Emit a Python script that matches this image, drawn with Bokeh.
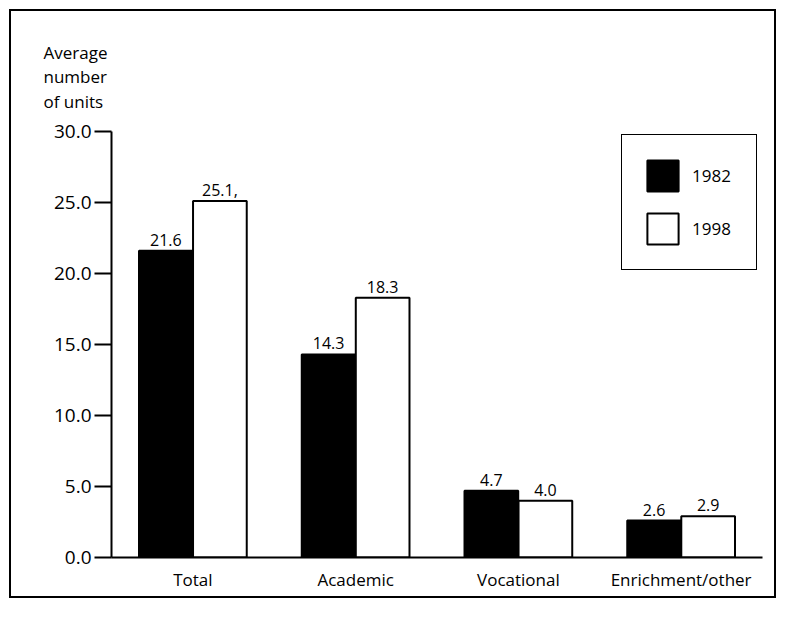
from bokeh.plotting import figure
from bokeh.models import (ColumnDataSource, FactorRange, Range1d, FixedTicker,
                          PrintfTickFormatter, Legend, LegendItem, Title)
from bokeh.transform import dodge
from bokeh.core.properties import value
from bokeh.embed import file_html
from bokeh.resources import INLINE

categories = ["Total", "Academic", "Vocational", "Enrichment/other"]
units_1982 = [21.6, 14.3, 4.7, 2.6]
units_1998 = [25.1, 18.3, 4.0, 2.9]
labels_1982 = ["21.6", "14.3", "4.7", "2.6"]
labels_1998 = ["25.1,", "18.3", "4.0", "2.9"]
y_ticks = [0, 5, 10, 15, 20, 25, 30]
series_names = ["1982", "1998"]
y_title = "Average\nnumber\nof units"

FONT = "Open Sans"

source = ColumnDataSource(data=dict(
    cat=categories, v1982=units_1982, v1998=units_1998,
    l1982=labels_1982, l1998=labels_1998,
))

p = figure(x_range=FactorRange(*categories), y_range=Range1d(0, 30),
           width=767, height=589, output_backend="svg", toolbar_location=None,
           min_border_left=100, min_border_right=16, min_border_top=120,
           min_border_bottom=43)
p.styles = {"border": "2px solid black", "margin": "9px 0 0 9px"}
p.outline_line_color = None
p.xgrid.grid_line_color = None
p.ygrid.grid_line_color = None
p.x_range.range_padding = 0
p.background_fill_color = "white"
p.border_fill_color = "white"

off = 0.166
bw = 0.33
r1 = p.vbar(x=dodge("cat", -off, range=p.x_range), top="v1982", width=bw,
            source=source, fill_color="black", line_color="black", line_width=2)
r2 = p.vbar(x=dodge("cat", off, range=p.x_range), top="v1998", width=bw,
            source=source, fill_color="white", line_color="black", line_width=2)

p.text(x=dodge("cat", -off, range=p.x_range), y="v1982", text="l1982", source=source,
       text_align="center", text_baseline="bottom", y_offset=-5,
       text_font=value(FONT), text_font_size="16px", text_color="black")
p.text(x=dodge("cat", off, range=p.x_range), y="v1998", text="l1998", source=source,
       text_align="center", text_baseline="bottom", y_offset=-5,
       text_font=value(FONT), text_font_size="16px", text_color="black")

# y axis
ya = p.yaxis[0]
ya.ticker = FixedTicker(ticks=y_ticks)
ya.formatter = PrintfTickFormatter(format="%.1f")
ya.axis_line_width = 2
ya.axis_line_color = "black"
ya.major_tick_line_width = 2
ya.major_tick_line_color = "black"
ya.major_tick_out = 17
ya.major_tick_in = 0
ya.minor_tick_line_color = None
ya.major_label_standoff = 3
ya.major_label_text_font = FONT
ya.major_label_text_font_size = "19px"
ya.major_label_text_color = "black"

# x axis
xa = p.xaxis[0]
xa.axis_line_width = 2
xa.axis_line_color = "black"
xa.major_tick_line_color = None
xa.major_tick_out = 0
xa.major_tick_in = 0
xa.minor_tick_line_color = None
xa.major_label_standoff = 10
xa.major_label_text_font = FONT
xa.major_label_text_font_size = "17px"
xa.major_label_text_color = "black"

# y title as a left-aligned multi-line title above the frame
title = Title(text=y_title, align="left", offset=-68, standoff=37,
              text_font=FONT, text_font_size="17px", text_font_style="normal",
              text_line_height=1.07, text_color="black")
p.add_layout(title, "above")

legend = Legend(items=[LegendItem(label=series_names[0], renderers=[r1]),
                       LegendItem(label=series_names[1], renderers=[r2])],
                location=(510, 287), glyph_width=39, glyph_height=39, padding=21,
                spacing=14, label_standoff=10, label_width=43, margin=0,
                border_line_color="black", border_line_width=1.5,
                border_line_alpha=1.0,
                label_text_font=FONT, label_text_font_size="17px",
                label_text_color="black", background_fill_alpha=1)
p.add_layout(legend, "center")

open("out.html", "w").write(file_html(p, INLINE))
